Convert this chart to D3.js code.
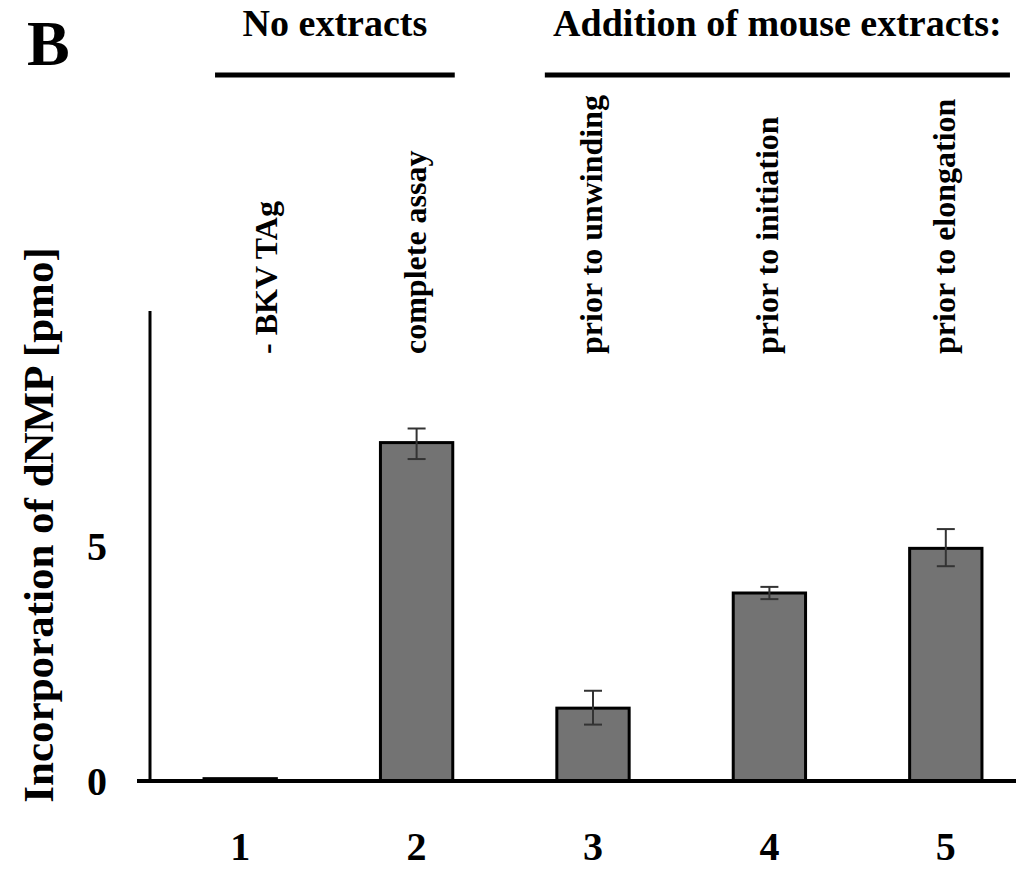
<!DOCTYPE html>
<html>
<head>
<meta charset="utf-8">
<script src="https://cdn.jsdelivr.net/npm/d3@7"></script>
<style>
  body { margin: 0; background: #fff; }
  svg { display: block; font-family: "Liberation Serif", "Times New Roman", serif; font-weight: bold; }
</style>
</head>
<body>
<svg class="target" width="1016" height="869"></svg>
<script>
// lanes and values
var lanes = ["1", "2", "3", "4", "5"];
var conditions = ["- BKV TAg", "complete assay", "prior to unwinding", "prior to initiation", "prior to elongation"];
var dnmp = [0.05, 7.2, 1.55, 4.0, 4.95];
var err_lo = [0, 6.85, 1.2, 3.87, 4.57];
var err_hi = [0, 7.5, 1.92, 4.13, 5.36];
var y_ticks = [0, 5];
var groups = ["No extracts", "Addition of mouse extracts:"];
var group_span = [[0, 1], [2, 4]];

var svg = d3.select(".target");

var x = d3.scaleBand().domain(lanes).range([152, 1034]).paddingInner(0.59).paddingOuter(0.295);
var y = d3.scaleLinear().domain([0, 10]).range([781, 311]);

// panel letter
svg.append("text").attr("x", 27).attr("y", 65).style("font-size", "64px").text("B");

// y axis line
svg.append("line")
    .attr("x1", 150).attr("x2", 150)
    .attr("y1", y(10)).attr("y2", y(0))
    .style("stroke", "#000").style("stroke-width", 3);

// bars
svg.selectAll(".bar")
    .data(dnmp)
    .enter()
    .append("rect")
    .attr("class", "bar")
    .attr("x", function (d, i) { return x(lanes[i]); })
    .attr("width", x.bandwidth())
    .attr("y", function (d) { return y(d); })
    .attr("height", function (d) { return y(0) - y(d); })
    .style("fill", "#737373")
    .style("stroke", "#000")
    .style("stroke-width", 3);

// error bars
for (var i = 0; i < lanes.length; i++) {
    if (err_hi[i] - err_lo[i] <= 0) continue;
    var cx = x(lanes[i]) + x.bandwidth() / 2;
    var g = svg.append("g").style("stroke", "#333").style("stroke-width", 2);
    g.append("line").attr("x1", cx).attr("x2", cx).attr("y1", y(err_hi[i])).attr("y2", y(err_lo[i]));
    g.append("line").attr("x1", cx - 9).attr("x2", cx + 9).attr("y1", y(err_hi[i])).attr("y2", y(err_hi[i]));
    g.append("line").attr("x1", cx - 9).attr("x2", cx + 9).attr("y1", y(err_lo[i])).attr("y2", y(err_lo[i]));
}

// x axis line
svg.append("line")
    .attr("x1", 137).attr("x2", 1016)
    .attr("y1", y(0)).attr("y2", y(0))
    .style("stroke", "#000").style("stroke-width", 4);

// y tick labels
svg.selectAll(".ytick")
    .data(y_ticks)
    .enter()
    .append("text")
    .attr("x", 107)
    .attr("y", function (d) { return y(d); })
    .attr("dy", "0.35em")
    .attr("text-anchor", "end")
    .style("font-size", "40px")
    .text(function (d) { return d; });

// lane numbers
svg.selectAll(".lane")
    .data(lanes)
    .enter()
    .append("text")
    .attr("x", function (d) { return x(d) + x.bandwidth() / 2; })
    .attr("y", 860)
    .attr("text-anchor", "middle")
    .style("font-size", "40px")
    .text(function (d) { return d; });

// condition labels, rotated
svg.selectAll(".cond")
    .data(conditions)
    .enter()
    .append("text")
    .attr("transform", function (d, i) {
        var cx = x(lanes[i]) + x.bandwidth() / 2 + (i == 0 ? 28 : 0);
        return "translate(" + (cx + 9) + ",354) rotate(-90)";
    })
    .attr("text-anchor", "start")
    .style("font-size", "32px")
    .text(function (d) { return d; });

// y axis title
svg.append("text")
    .attr("transform", "translate(53,525) rotate(-90)")
    .attr("text-anchor", "middle")
    .style("font-size", "43px")
    .text("Incorporation of dNMP [pmo]");

// group headings with bars
for (var k = 0; k < groups.length; k++) {
    var a = x(lanes[group_span[k][0]]);
    var b = x(lanes[group_span[k][1]]) + x.bandwidth();
    var x1 = (k == 0 ? a + 11 : a - 12);
    var x2 = (k == 0 ? b + 2 : b + 28);
    svg.append("line")
        .attr("x1", x1).attr("x2", x2)
        .attr("y1", 75).attr("y2", 75)
        .style("stroke", "#000").style("stroke-width", 5);
    svg.append("text")
        .attr("x", (x1 + x2) / 2)
        .attr("y", 36)
        .attr("text-anchor", "middle")
        .style("font-size", "38px")
        .text(groups[k]);
}
</script>
</body>
</html>
